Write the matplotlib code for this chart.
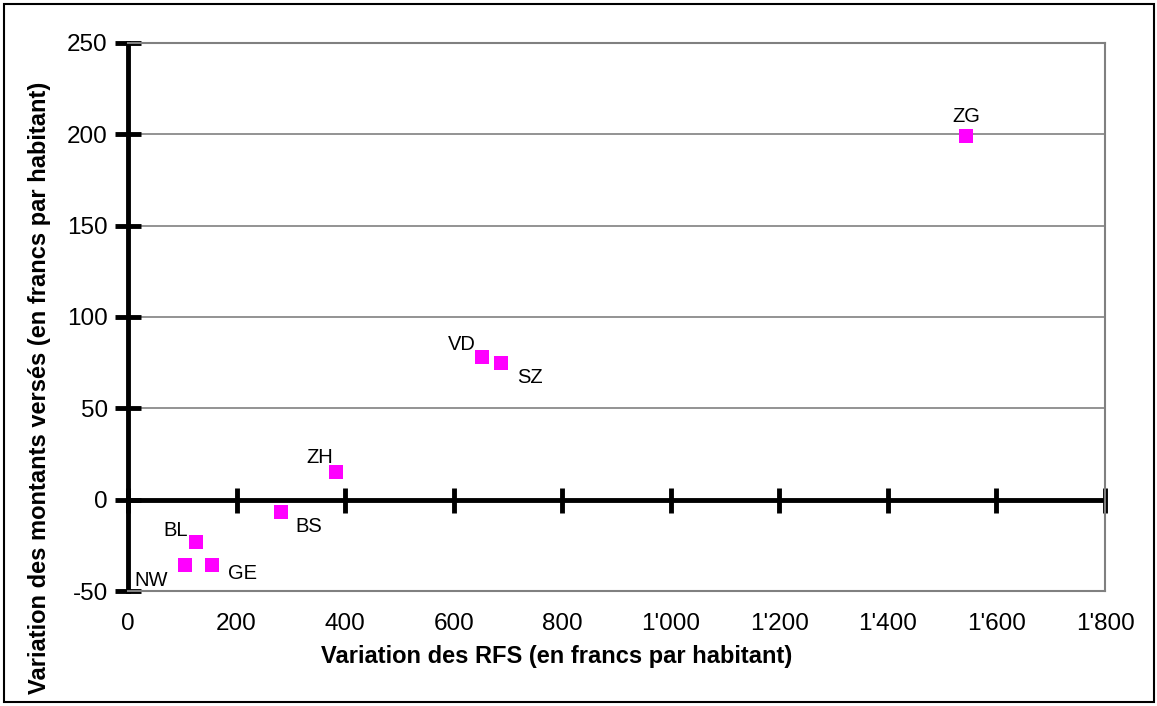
import matplotlib
matplotlib.use("Agg")
import matplotlib.pyplot as plt
from matplotlib.patches import Rectangle

plt.rcParams['font.family'] = ['Liberation Sans', 'DejaVu Sans']
plt.rcParams['axes.unicode_minus'] = False

cantons = ["ZG", "VD", "SZ", "ZH", "BS", "BL", "NW", "GE"]
rfs_var = [1544, 653, 688, 383, 281, 126, 105, 154]
montants_var = [199, 78, 75, 15, -7, -23, -36, -36]
# label placement (offset points, ha, va)
label_pos = {
    "ZG": ((0, 7), "center", "bottom"),
    "VD": ((-5, 2), "right", "bottom"),
    "SZ": ((11, -4), "left", "top"),
    "ZH": ((-2, 4), "right", "bottom"),
    "BS": ((11, -3), "left", "top"),
    "BL": ((-6, 1), "right", "bottom"),
    "NW": ((-12, -4), "right", "top"),
    "GE": ((12, 1), "left", "top"),
}
xticks = [0, 200, 400, 600, 800, 1000, 1200, 1400, 1600, 1800]
xticklabels = ["0", "200", "400", "600", "800", "1'000", "1'200", "1'400", "1'600", "1'800"]
yticks = [-50, 0, 50, 100, 150, 200, 250]

fig = plt.figure(figsize=(11.57, 7.06), dpi=100)
ax = fig.add_axes([128/1157, 1-591/706, (1105-128)/1157, (591-43)/706])
ax.set_xlim(0, 1800)
ax.set_ylim(-50, 250)

for s in ["top", "right", "bottom"]:
    ax.spines[s].set_color("#808080")
    ax.spines[s].set_linewidth(1.5)
ax.spines["left"].set_color("black")
ax.spines["left"].set_linewidth(3.5)

# gridlines
for y in yticks:
    if y not in (0, -50, 250):
        ax.axhline(y, color="#808080", lw=1.2, zorder=1)

# zero axis with ticks
ax.axhline(0, color="black", lw=3.5, zorder=2)
ax.plot(xticks, [0]*len(xticks), ls="none", marker="|", ms=18, mew=3.5, color="black", zorder=2, clip_on=False)

ax.set_xticks(xticks)
ax.set_xticklabels(xticklabels, fontsize=17.5)
ax.tick_params(axis="x", length=0, pad=16)
ax.set_yticks(yticks)
ax.tick_params(axis="y", direction="inout", length=19, width=3.5, labelsize=17.5, pad=5)

ax.scatter(rfs_var, montants_var, marker="s", s=97, color="#FF00FF", zorder=5, linewidths=0)
for c, x, y in zip(cantons, rfs_var, montants_var):
    off, ha, va = label_pos[c]
    ax.annotate(c, (x, y), xytext=off, textcoords="offset points", ha=ha, va=va, fontsize=14.5)

fig.text(40/1157, 1-388/706, "Variation des montants versés (en francs par habitant)",
         rotation=90, ha="center", va="center", fontsize=17, fontweight="bold")
fig.text(557/1157, 1-657/706, "Variation des RFS (en francs par habitant)",
         ha="center", va="center", fontsize=17, fontweight="bold")

fig.patches.append(Rectangle((4/1157, 4/706), 1150/1157, 698/706, transform=fig.transFigure,
                             fill=False, edgecolor="black", lw=1.5))

fig.savefig("out.png", dpi=100)
